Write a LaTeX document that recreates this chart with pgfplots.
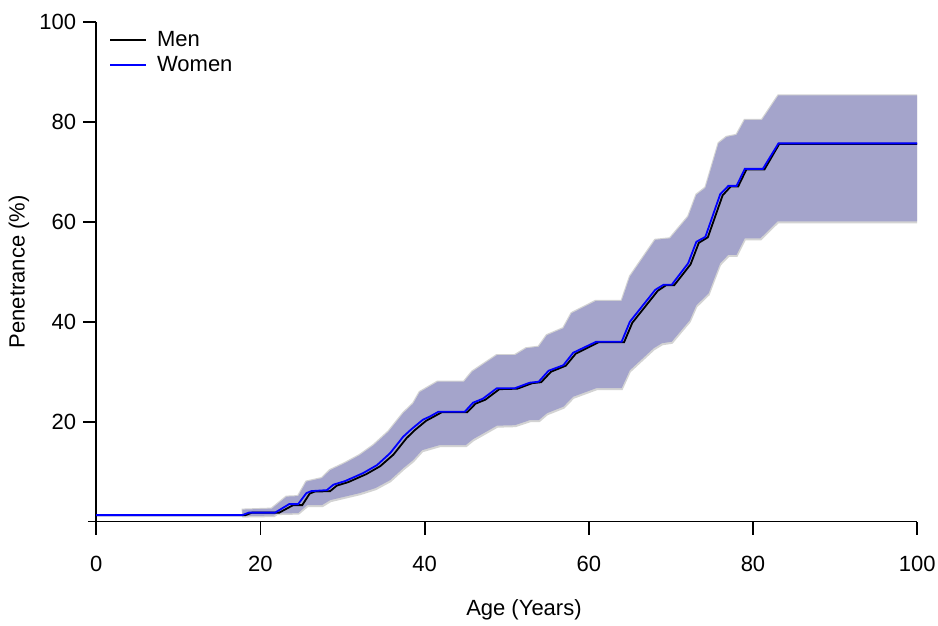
\documentclass[border=0pt]{standalone}
\usepackage{fontspec}
\setmainfont{Liberation Sans}
\usepackage{pgfplots}
\pgfplotsset{compat=1.18}
\usepgfplotslibrary{fillbetween}

\definecolor{bandW}{HTML}{A4A4CB}
\definecolor{bandM}{HTML}{D3D3D3}

\begin{document}
\begin{tikzpicture}
\begin{axis}[
  name=ax, scale only axis, width=410.5pt, height=249.8pt,
  xmin=0, xmax=100, ymin=0, ymax=100,
  axis x line=bottom, axis y line=left, axis line style={-, line width=0.9pt},
  xtick={0,20,...,100}, ytick={20,40,...,100},
  tick align=outside, major tick length=6.5pt,
  every tick/.style={black, line width=0.9pt},
  tick label style={font=\fontsize{11}{13}\selectfont},
  xticklabel style={yshift=-7pt},
  /pgf/number format/assume math mode=true,
  xlabel={Age (Years)}, ylabel={Penetrance (\%)},
  label style={font=\fontsize{11}{13}\selectfont},
  xlabel style={at={(axis description cs:0.521,-0.177)}, anchor=center},
  ylabel style={at={(axis description cs:-0.094,0.5)}, anchor=center, rotate=0},
  clip=false,
  legend style={at={(axis cs:1.3,99.5)}, anchor=north west, draw=none, fill=none,
    font=\fontsize{11}{13}\selectfont, row sep=-0.5pt, inner sep=1pt},
  legend cell align=left,
  legend image code/.code={\draw[#1] (0pt,0pt) -- (18pt,0pt); \path (21pt,0pt);},
]
% confidence band, men
\addplot[name path=mu, draw=none, forget plot] coordinates {
(17.7,2.6) (21.3,2.8) (23.1,5.2) (24.5,5.3) (25.5,8.2) (27.4,8.9) (28.4,10.5) (30.2,11.9)
(32.0,13.5) (33.7,15.5) (35.5,18.2) (37.3,21.9) (38.5,23.8) (39.3,26.1) (41.5,28.2) (44.7,28.2)
(45.7,30.2) (48.7,33.5) (50.9,33.5) (52.3,34.9) (53.8,35.2) (54.8,37.5) (56.8,38.9) (57.8,41.9)
(60.8,44.4) (63.9,44.4) (64.9,49.2) (68.0,56.6) (69.8,56.9) (72.0,61.2) (73.0,65.6) (74.1,67.0)
(75.7,75.9) (76.7,77.2) (77.9,77.6) (78.9,80.6) (81.0,80.6) (83.0,85.5) (100,85.5)};
\addplot[name path=ml, draw=none, forget plot] coordinates {
(17.8,0.8) (21.7,0.9) (22.1,1.3) (24.7,1.4) (25.8,2.9) (27.6,2.9) (28.6,3.9) (30.4,4.6)
(32.2,5.3) (34.1,6.3) (35.9,7.9) (37.5,10.3) (38.7,11.9) (39.8,13.9) (41.9,14.9) (45.1,14.9)
(46.0,16.1) (48.9,18.8) (51.1,18.9) (52.9,19.9) (54.0,19.9) (55.0,21.3) (57.0,22.6) (58.2,24.6)
(61.0,26.3) (64.1,26.3) (65.1,29.9) (68.0,34.3) (69.0,35.3) (70.2,35.6) (72.4,39.9) (73.2,42.9)
(74.7,45.3) (75.3,47.9) (76.1,51.3) (77.1,53.0) (78.1,53.0) (79.1,56.3) (81.0,56.3) (83.1,59.7)
(100,59.7)};
\addplot[bandM, draw=none, forget plot] fill between[of=mu and ml];
% confidence band, women
\addplot[name path=wu, draw=none, forget plot] coordinates {
(17.8,2.4) (21.4,2.6) (23.2,5.0) (24.6,5.1) (25.6,8.0) (27.5,8.7) (28.5,10.3) (30.3,11.7)
(32.1,13.3) (33.8,15.3) (35.6,18.0) (37.4,21.7) (38.6,23.6) (39.4,25.9) (41.6,28.0) (44.8,28.0)
(45.8,30.0) (48.8,33.3) (51.0,33.3) (52.4,34.7) (53.9,35.0) (54.9,37.3) (56.9,38.7) (57.9,41.7)
(60.9,44.2) (64.0,44.2) (65.0,49.0) (68.1,56.4) (69.9,56.7) (72.1,61.0) (73.1,65.4) (74.2,66.8)
(75.8,75.7) (76.8,77.0) (78.0,77.4) (79.0,80.4) (81.1,80.4) (83.1,85.3) (100,85.3)};
\addplot[name path=wl, draw=none, forget plot] coordinates {
(17.8,1.1) (21.6,1.2) (22.0,1.6) (24.6,1.7) (25.7,3.3) (27.5,3.3) (28.5,4.3) (30.3,5.0)
(32.1,5.7) (34.0,6.7) (35.8,8.3) (37.4,10.7) (38.6,12.3) (39.7,14.3) (41.8,15.3) (45.0,15.3)
(45.9,16.5) (48.8,19.2) (51.0,19.3) (52.8,20.3) (53.9,20.3) (54.9,21.7) (56.9,23.0) (58.1,25.0)
(60.9,26.7) (64.0,26.7) (65.0,30.3) (67.9,34.7) (68.9,35.7) (70.1,36.0) (72.3,40.3) (73.1,43.3)
(74.6,45.7) (75.2,48.3) (76.0,51.7) (77.0,53.4) (78.0,53.4) (79.0,56.7) (80.9,56.7) (83.0,60.1)
(100,60.1)};
\addplot[bandW, draw=none, forget plot] fill between[of=wu and wl];
% point estimates
\addplot[black, line width=0.9pt] coordinates {
(0,1.3) (18.2,1.3) (19.0,1.8) (22.3,1.8) (24.0,3.3) (25.1,3.3) (26.0,5.6) (26.6,6.0)
(28.5,6.1) (29.3,7.2) (30.7,7.9) (32.9,9.5) (34.6,11.1) (36.2,13.4) (37.8,16.7) (38.8,18.3)
(40.2,20.2) (41.0,20.9) (42.1,21.9) (45.2,21.9) (46.2,23.6) (47.4,24.4) (49.1,26.5) (51.3,26.6)
(53.1,27.7) (54.2,27.9) (55.4,30.0) (57.2,31.2) (58.4,33.6) (61.2,35.9) (64.3,35.9) (65.3,39.8)
(68.4,46.2) (69.4,47.3) (70.4,47.3) (72.4,51.5) (73.4,55.8) (74.5,56.9) (76.3,65.3) (77.3,67.1)
(78.2,67.1) (79.2,70.5) (81.4,70.5) (83.2,75.6) (100,75.6)};
\addlegendentry{Men}
\addplot[blue, line width=0.9pt] coordinates {
(0,1.3) (17.8,1.3) (18.6,1.8) (21.8,1.8) (23.5,3.5) (24.6,3.5) (25.6,5.7) (26.2,6.1)
(28.1,6.3) (28.9,7.4) (30.3,8.1) (32.5,9.7) (34.2,11.3) (35.8,13.7) (37.4,17.0) (38.4,18.5)
(39.8,20.4) (40.6,21.0) (41.7,22.0) (44.9,22.0) (45.9,23.8) (47.1,24.6) (48.8,26.7) (51.0,26.7)
(52.8,27.8) (53.9,28.0) (55.1,30.2) (56.9,31.3) (58.1,33.8) (60.9,36.0) (64.0,36.0) (65.0,40.0)
(68.1,46.4) (69.1,47.4) (70.1,47.4) (72.1,51.7) (73.1,56.0) (74.2,57.0) (76.0,65.5) (77.0,67.2)
(78.0,67.2) (79.0,70.6) (81.2,70.6) (83.1,75.7) (100,75.7)};
\addlegendentry{Women}
\draw[line width=0.9pt] (axis cs:-1,0) -- (axis cs:0,0);
\end{axis}
\pgfresetboundingbox
\path ([shift={(-48.1pt,-52.2pt)}]ax.south west) rectangle ([shift={(10.4pt,11pt)}]ax.north east);
\end{tikzpicture}
\end{document}
